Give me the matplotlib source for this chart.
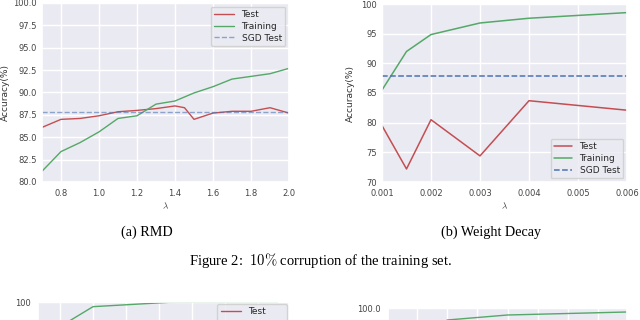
import matplotlib
matplotlib.use("Agg")
import matplotlib.pyplot as plt
import seaborn as sns

sns.set_theme(style="darkgrid")
plt.rcParams["font.family"] = ["DejaVu Sans"]
plt.rcParams["mathtext.fontset"] = "cm"

# (a) RMD
rmd_lam = [0.7, 0.8, 0.9, 1.0, 1.1, 1.2, 1.3, 1.4, 1.45, 1.5, 1.6, 1.7, 1.8, 1.9, 2.0]
rmd_test = [86.1, 87.0, 87.1, 87.4, 87.85, 88.0, 88.2, 88.5, 88.3, 87.0, 87.7, 87.9, 87.9, 88.3, 87.7]
rmd_train = [81.2, 83.4, 84.4, 85.6, 87.1, 87.4, 88.7, 89.05, 89.5, 89.95, 90.65, 91.5, 91.8, 92.1, 92.7]
rmd_sgd = 87.8

# (b) Weight decay
wd_lam = [0.001, 0.0015, 0.002, 0.003, 0.004, 0.006]
wd_test = [79.5, 72.2, 80.5, 74.4, 83.7, 82.1]
wd_train = [85.5, 92.0, 94.85, 96.8, 97.6, 98.55]
wd_sgd = 87.9

# next figure (cut off at the bottom of the page)
low_a_x = [1, 2, 4.3, 7.6]
low_a_train = [92.6, 98.6, 99.9, 100.0]
low_b_x = [1, 2, 4, 7.97]
low_b_train = [96.5, 98.8, 99.3, 99.6]

TICK = 6
LAB = 6.5


def style(ax, ylab_x):
    ax.tick_params(labelsize=TICK, colors="#444444", length=0)
    ax.tick_params(axis="y", pad=3.5)
    ax.tick_params(axis="x", pad=5)
    ax.set_ylabel("Accuracy(%)", fontsize=LAB, color="#333333")
    ax.yaxis.set_label_coords(ylab_x, 0.5)
    ax.set_xlabel(r"$\lambda$", fontsize=LAB, color="#333333", labelpad=2)


fig = plt.figure(figsize=(6.4, 3.2), dpi=100)

ax1 = fig.add_axes([42 / 640, 1 - 182 / 320, 247 / 640, 179 / 320])
ax1.plot(rmd_lam, rmd_test, color="r", lw=1.0, label="Test")
ax1.plot(rmd_lam, rmd_train, color="g", lw=1.0, label="Training")
ax1.axhline(rmd_sgd, color="b", ls="--", lw=1.0, alpha=0.6, label="SGD Test")
ax1.set_xlim(0.7, 2.0)
ax1.set_ylim(80, 100)
ax1.set_yticks([80, 82.5, 85, 87.5, 90, 92.5, 95, 97.5, 100])
ax1.set_yticklabels(["80.0", "82.5", "85.0", "87.5", "90.0", "92.5", "95.0", "97.5", "100.0"])
ax1.set_xticks([0.8, 1.0, 1.2, 1.4, 1.6, 1.8, 2.0])
style(ax1, (10 - 42) / 247)
ax1.legend(loc="upper right", fontsize=LAB, handlelength=2.2, borderpad=0.4,
           labelspacing=0.3, borderaxespad=0.4)

ax2 = fig.add_axes([382 / 640, 1 - 182 / 320, 245 / 640, 178 / 320])
ax2.plot(wd_lam, wd_test, color="r", lw=1.1, label="Test")
ax2.plot(wd_lam, wd_train, color="g", lw=1.1, label="Training")
ax2.axhline(wd_sgd, color="b", ls="--", lw=1.1, label="SGD Test")
ax2.set_xlim(0.001, 0.006)
ax2.set_ylim(70, 100)
ax2.set_xticks([0.001, 0.002, 0.003, 0.004, 0.005, 0.006])
ax2.set_xticklabels(["0.001", "0.002", "0.003", "0.004", "0.005", "0.006"])
style(ax2, (355 - 382) / 245)
ax2.legend(loc="lower right", fontsize=LAB, handlelength=2.0, borderpad=0.4,
           labelspacing=0.3, borderaxespad=0.4)

ax3 = fig.add_axes([38 / 640, 1 - 502 / 320, 251 / 640, 200 / 320])
ax3.plot(low_a_x, low_a_train, color="g", lw=1.0, label="Training")
ax3.plot([], [], color="r", lw=1.0, label="Test")
ax3.set_xlim(1 - 22 / 33, 7 + 31 / 33)
ax3.set_ylim(40, 100)
ax3.set_yticks([40, 50, 60, 70, 80, 90, 100])
ax3.set_yticklabels(["", "", "", "", "", "", "100"])
ax3.set_xticks(range(1, 8))
ax3.set_xticklabels([""] * 7)
ax3.tick_params(labelsize=TICK, colors="#444444", length=0, pad=5.5)
handles, labels = ax3.get_legend_handles_labels()
ax3.legend(handles[::-1], labels[::-1], loc="upper right", fontsize=LAB,
           handlelength=2.2, borderaxespad=0.2, labelspacing=1.6)

ax4 = fig.add_axes([388 / 640, 1 - 508 / 320, 239 / 640, 200 / 320])
ax4.plot(low_b_x, low_b_train, color="g", lw=1.0)
ax4.set_xlim(1 - 29 / 30, 7 + 29 / 30)
ax4.set_ylim(80, 100)
ax4.set_yticks([80, 82.5, 85, 87.5, 90, 92.5, 95, 97.5, 100])
ax4.set_yticklabels([""] * 8 + ["100.0"])
ax4.set_xticks(range(1, 8))
ax4.set_xticklabels([""] * 7)
ax4.tick_params(labelsize=TICK, colors="#444444", length=0, pad=5.5)

serif = ["Liberation Serif", "DejaVu Serif"]
fig.text(147 / 640, 1 - 232 / 320, "(a) RMD", ha="center", va="center",
         fontsize=10.2, family=serif, color="black")
fig.text(491 / 640, 1 - 232 / 320, "(b) Weight Decay", ha="center", va="center",
         fontsize=10.2, family=serif, color="black")
fig.text(320 / 640, 1 - 260 / 320, r"Figure 2:  $10\%$ corruption of the training set.",
         ha="center", va="center", fontsize=10.5, family=serif, color="black")

fig.savefig("out.png", dpi=100)
